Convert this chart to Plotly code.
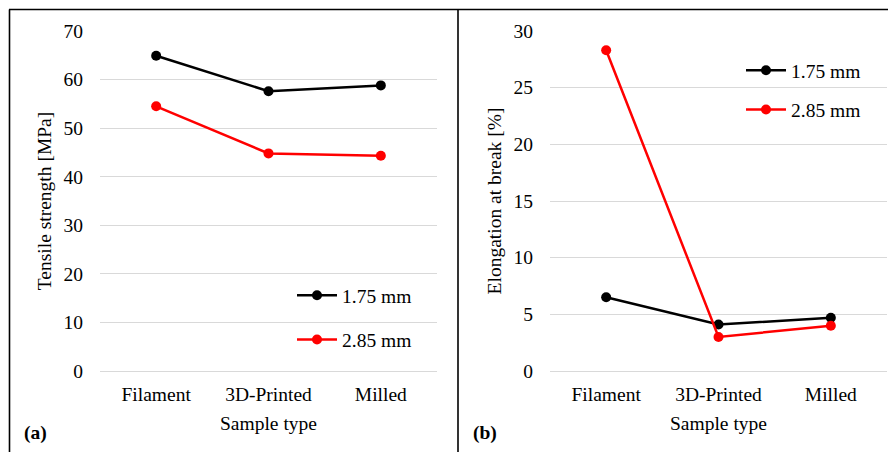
import plotly.graph_objects as go

categories = ["Filament", "3D-Printed", "Milled"]
series_names = ["1.75 mm", "2.85 mm"]
tensile_175 = [64.9, 57.6, 58.8]
tensile_285 = [54.5, 44.8, 44.3]
elong_175 = [6.5, 4.1, 4.7]
elong_285 = [28.3, 3.0, 4.0]
tensile_ticks = [0, 10, 20, 30, 40, 50, 60, 70]
elong_ticks = [0, 5, 10, 15, 20, 25, 30]

W, H = 896, 452
OFF = 8  # page body margin offset
FONT = "Liberation Serif, Times New Roman, serif"
FS = 19.5
colors = ["#000000", "#ff0000"]

def px(x):
    return (x - OFF) / W

def py(y):
    return 1 - (y - OFF) / H

fig = go.Figure()

for i, (vals, name) in enumerate(zip([tensile_175, tensile_285], series_names)):
    fig.add_trace(go.Scatter(
        x=categories, y=vals, name=name, mode="lines+markers",
        line=dict(color=colors[i], width=2.5),
        marker=dict(color=colors[i], size=10),
        xaxis="x", yaxis="y", legend="legend", legendgroup=f"a{i}",
    ))
for i, (vals, name) in enumerate(zip([elong_175, elong_285], series_names)):
    fig.add_trace(go.Scatter(
        x=categories, y=vals, name=name, mode="lines+markers",
        line=dict(color=colors[i], width=2.5),
        marker=dict(color=colors[i], size=10),
        xaxis="x2", yaxis="y2", legend="legend2", legendgroup=f"b{i}",
    ))

ydom = [py(371), py(31)]
axis_common = dict(
    showline=False, ticks="", automargin=False,
    tickfont=dict(family=FONT, size=FS, color="#000"),
)
fig.update_layout(
    width=W, height=H, autosize=False,
    margin=dict(l=0, r=0, t=0, b=0, autoexpand=False),
    paper_bgcolor="white", plot_bgcolor="white",
    font=dict(family=FONT, size=FS, color="#000"),
    xaxis=dict(domain=[px(100), px(437)], type="category", range=[-0.5, 2.5],
               showgrid=False, zeroline=False, anchor="y", ticklabelstandoff=9,
               title=dict(text="Sample type", font=dict(family=FONT, size=FS), standoff=12),
               **axis_common),
    yaxis=dict(domain=ydom, range=[0, 70], tickvals=tensile_ticks, anchor="x",
               showgrid=True, gridcolor="#d9d9d9", gridwidth=1.3,
               zeroline=True, zerolinecolor="#d9d9d9", zerolinewidth=1.3,
               ticklabelstandoff=16,
               title=dict(text="Tensile strength [MPa]", font=dict(family=FONT, size=FS), standoff=6),
               **axis_common),
    xaxis2=dict(domain=[px(550), px(887)], type="category", range=[-0.5, 2.5],
                showgrid=False, zeroline=False, anchor="y2", ticklabelstandoff=9,
                title=dict(text="Sample type", font=dict(family=FONT, size=FS), standoff=12),
                **axis_common),
    yaxis2=dict(domain=ydom, range=[0, 30], tickvals=elong_ticks, anchor="x2",
                showgrid=True, gridcolor="#d9d9d9", gridwidth=1.3,
                zeroline=True, zerolinecolor="#d9d9d9", zerolinewidth=1.3,
                ticklabelstandoff=16,
                title=dict(text="Elongation at break [%]", font=dict(family=FONT, size=FS), standoff=6),
                **axis_common),
    legend=dict(x=px(292), y=py(276), xanchor="left", yanchor="top",
                bgcolor="rgba(0,0,0,0)", traceorder="grouped", tracegroupgap=16,
                itemwidth=40, font=dict(family=FONT, size=FS), itemclick=False),
    legend2=dict(x=px(741), y=py(51), xanchor="left", yanchor="top",
                 bgcolor="rgba(0,0,0,0)", traceorder="grouped", tracegroupgap=11,
                 itemwidth=40, font=dict(family=FONT, size=FS), itemclick=False),
    showlegend=True,
)

# panel frames
line = dict(color="#000", width=1.6)
fig.add_shape(type="line", xref="paper", yref="paper", x0=px(9), x1=1, y0=py(9.5), y1=py(9.5), line=line)
fig.add_shape(type="line", xref="paper", yref="paper", x0=px(9.5), x1=px(9.5), y0=0, y1=py(9.5), line=line)
fig.add_shape(type="line", xref="paper", yref="paper", x0=px(458), x1=px(458), y0=0, y1=py(9.5), line=line)

for label, xc in [("(a)", 35), ("(b)", 485)]:
    fig.add_annotation(text=f"<b>{label}</b>", xref="paper", yref="paper",
                       x=px(xc), y=py(433), xanchor="center", yanchor="middle",
                       showarrow=False,
                       font=dict(family=FONT, size=FS, color="#000"))

fig.write_html("out.html")
